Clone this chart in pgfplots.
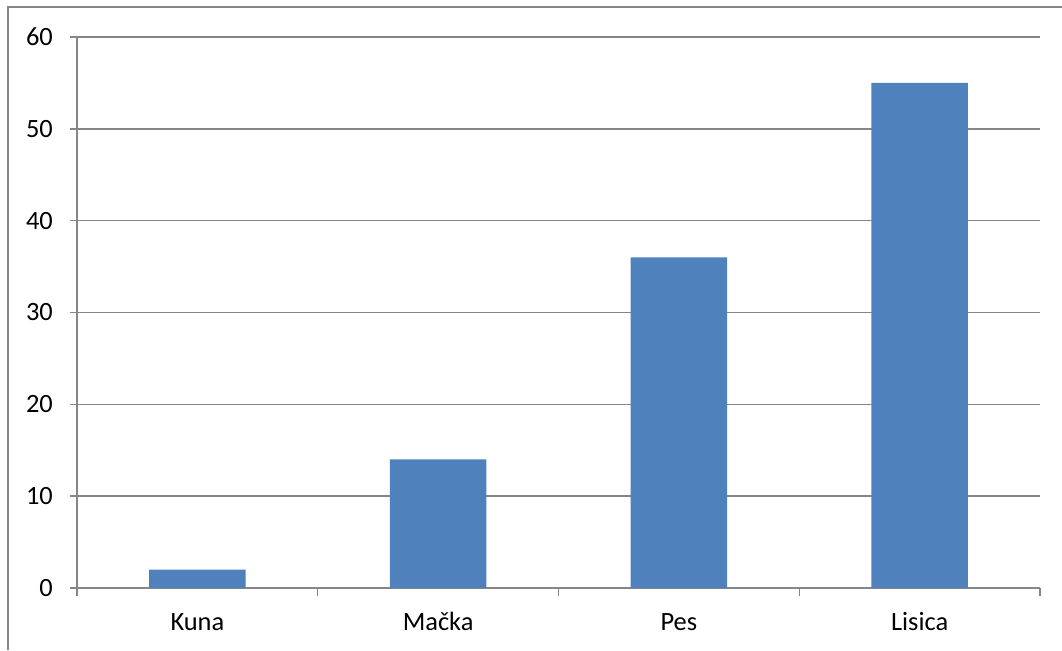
\documentclass[border=0pt]{standalone}
\usepackage{pgfplots}
\pgfplotsset{compat=1.18}
\usepackage{fontspec}
\setmainfont{Carlito}
\definecolor{barblue}{HTML}{4F81BD}
\definecolor{linegray}{HTML}{868686}
\begin{document}
\fontsize{13.2pt}{16pt}\selectfont
\begin{tikzpicture}[x=1pt,y=1pt]
\useasboundingbox (0,0) rectangle (531,325);
% chart frame
\draw[linegray, line width=0.6pt] (4,0) -- (4,321.5) -- (531,321.5);
\begin{axis}[
  at={(38.5pt,31pt)}, anchor=south west,
  scale only axis, width=481.5pt, height=275.5pt,
  /pgf/number format/assume math mode=true,
  ybar, bar width=0.4, bar shift=0pt,
  xmin=-0.5, xmax=3.5, ymin=0, ymax=60,
  ytick={0,10,...,60},
  xtick={0,1,2,3},
  xticklabels={Kuna,Mačka,Pes,Lisica},
  minor xtick={-0.5,0.5,1.5,2.5,3.5},
  major x tick style={draw=none},
  axis lines*=left,
  axis line style={linegray, line width=0.7pt},
  tick style={linegray, line width=0.7pt},
  tick align=outside,
  major tick length=3.5pt, minor tick length=4pt,
  ymajorgrids, grid style={linegray, line width=0.7pt},
  ticklabel style={font=\fontsize{13.2pt}{16pt}\selectfont, text=black},
  xticklabel style={anchor=base, yshift=-17.5pt},
  yticklabel style={xshift=-4pt},
]
\addplot[fill=barblue, draw=none] coordinates {(0,2) (1,14) (2,36) (3,55)};
\end{axis}
\end{tikzpicture}
\end{document}
